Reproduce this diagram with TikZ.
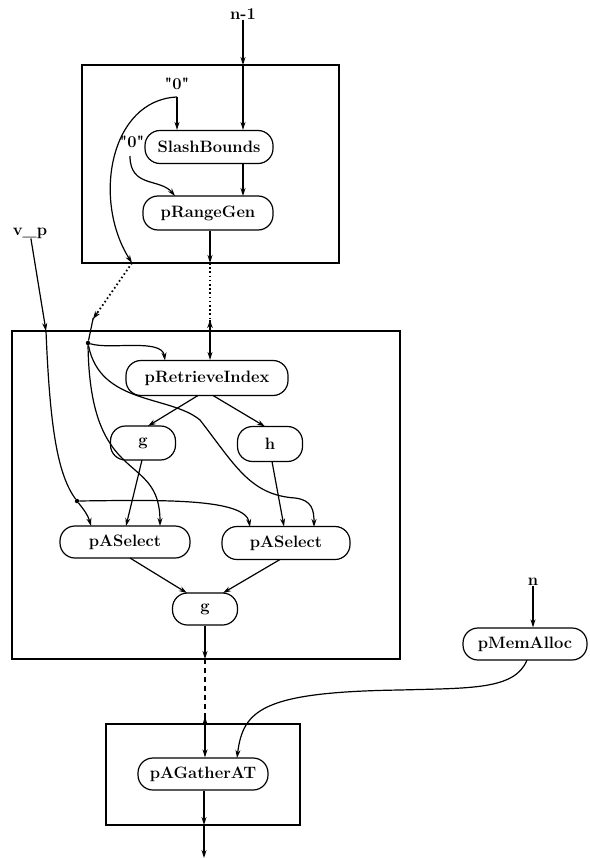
\documentclass[tikz,border=0pt]{standalone}
\usetikzlibrary{arrows.meta,calc}
\begin{document}
\begin{tikzpicture}[x=1pt,y=-1pt,
  every node/.style={font=\fontsize{16.5}{19}\selectfont\bfseries},
  proc/.style={draw, line width=1.2pt, rounded corners=15pt, inner sep=0pt},
  lbl/.style={inner sep=0pt},
  arr/.style={line width=1.2pt, -{Stealth[length=8pt,width=5pt]}},
  ln/.style={line width=1.2pt},
  oarr/.style={line width=1.2pt, -{Stealth[open,length=8pt,width=5.5pt]}},
  dotline/.style={line width=1.8pt, dash pattern=on 1.6pt off 2.6pt},
  dashline/.style={line width=1.4pt, dash pattern=on 5pt off 4pt},
  frame/.style={draw, line width=1.2pt},
  dotn/.style={circle, fill, inner sep=0pt, minimum size=4.5pt}]
\useasboundingbox (0,0) rectangle (589,858);
% frames
\draw[frame] (82,65) rectangle (339,263);
\draw[frame] (12,331) rectangle (400,659);
\draw[frame] (106,724) rectangle (300,825);
% nodes
\node[proc, minimum width=128pt, minimum height=33pt] (SB) at (209,147) {SlashBounds};
\node[proc, minimum width=130pt, minimum height=34pt] (RG) at (208,213) {pRangeGen};
\node[proc, minimum width=162pt, minimum height=35pt] (RI) at (207,378) {pRetrieveIndex};
\node[proc, minimum width=65pt, minimum height=34pt] (G1) at (143,443) {g};
\node[proc, minimum width=65pt, minimum height=35pt] (H) at (270,444) {h};
\node[proc, minimum width=130pt, minimum height=32pt] (PS1) at (125,542) {pASelect};
\node[proc, minimum width=128pt, minimum height=33pt] (PS2) at (286,543) {pASelect};
\node[proc, minimum width=65pt, minimum height=32pt] (G2) at (205,609) {g};
\node[proc, minimum width=130pt, minimum height=32pt] (GA) at (203,774) {pAGatherAT};
\node[proc, minimum width=124pt, minimum height=32pt] (MA) at (525,644) {pMemAlloc};
% labels
\node[lbl] (N1) at (243,14) {n-1};
\node[lbl] (Z1) at (177,84) {\textquotedbl0\textquotedbl};
\node[lbl] (Z2) at (132,142) {\textquotedbl0\textquotedbl};
\node[lbl] (VP) at (30,233) {v\_p};
\node[lbl] (N) at (533,582) {n};
% coordinates
\coordinate (c1) at (243,65);
\coordinate (z1a) at (177,97);
\coordinate (b1l) at (132,263);
\coordinate (o1) at (93,319);
\node[dotn] (d1) at (88,343) {};
\coordinate (b1r) at (210,263);
\coordinate (o2) at (210,320);
\coordinate (vpb) at (46,331);
\node[dotn] (d2) at (77,501) {};
\coordinate (b2o) at (205,659);
\coordinate (o3) at (205,717);
\coordinate (b3o) at (204,825);
\coordinate (bot) at (204,858);
% top frame
\draw[arr] (N1) -- (c1);
\draw[arr] (c1) -- (c1 |- SB.north);
\draw[arr] (z1a) -- (z1a |- SB.north);
\draw[arr] (z1a) .. controls (110,100) and (92,200) .. (b1l);
\draw[arr] (130,156) .. controls (130,188) and (160,178) .. (175,196);
\draw[arr] (243,163.5) -- (243,196);
\draw[arr] (RG.south -| b1r) -- (b1r);
\draw[dotline] (b1r) -- (o2);
\draw[oarr] ([yshift=-8pt]o2) -- (o2);
\draw[arr] (o2) -- (o2 |- RI.north);
\draw[dotline] (b1l) -- (o1);
\draw[oarr] ($(o1)!8pt!(b1l)$) -- (o1);
\draw[ln] (o1) -- (d1);
% middle frame
\draw[arr] (d1) .. controls (110,350) and (162,338) .. (165,360.5);
\draw[arr] (d1) .. controls (90,490) and (160,450) .. (160,526);
\draw[arr] (d1) .. controls (100,405) and (170,395) .. (200,420) .. controls (235,465) and (250,495) .. (295,498) .. controls (312,500) and (314,510) .. (314,527);
\draw[arr] (VP) -- (vpb);
\draw[ln] (vpb) .. controls (50,430) and (58,475) .. (d2);
\draw[arr] (d2) .. controls (84,510) and (88,515) .. (91,526);
\draw[arr] (d2) .. controls (160,500) and (245,498) .. (250,527);
\draw[arr] (198,395.5) -- (148,426);
\draw[arr] (213,395.5) -- (265,426.5);
\draw[arr] (142,460) -- (126,526);
\draw[arr] (272,461.5) -- (284,526.5);
\draw[arr] (130,558) -- (187,593);
\draw[arr] (280,559.5) -- (223,593);
\draw[arr] (G2) -- (b2o);
\draw[dashline] (b2o) -- (o3);
\draw[oarr] ([yshift=-8pt]o3) -- (o3);
\draw[arr] (o3) -- (o3 |- GA.north);
% bottom
\draw[arr] (GA.south -| b3o) -- (b3o);
\draw[arr] (b3o) -- (bot);
\draw[arr] (N) -- (N |- MA.north);
\draw[arr] (527,660) .. controls (515,690) and (470,688) .. (400,690) .. controls (262,692) and (243,710) .. (237,758);
\end{tikzpicture}
\end{document}
